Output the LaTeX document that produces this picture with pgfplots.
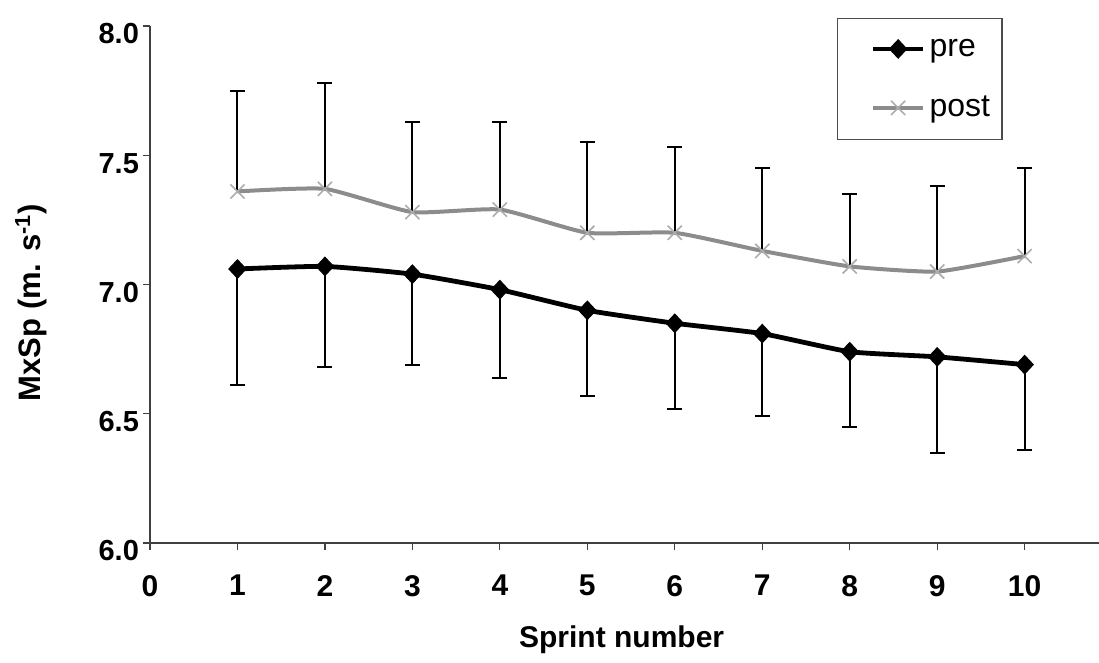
\documentclass[border=0pt]{standalone}
\usepackage{fontspec}
\setmainfont{Liberation Sans}
\usepackage{pgfplots}
\pgfplotsset{compat=1.18}

\definecolor{postgray}{gray}{0.55}
\definecolor{markgray}{gray}{0.68}

\pgfplotsset{
  mylegend/.style={
    legend image code/.code={
      \fill[white] (0pt,0pt) circle (0.05pt);
      \draw[mark repeat=2, mark phase=2, ##1] plot coordinates {(12.5pt,0pt) (25pt,0pt) (37.5pt,0pt)};
    },
  },
}

\begin{document}
\begin{tikzpicture}
\useasboundingbox (-75pt,-60pt) rectangle (474.5pt,271.5pt);
\begin{axis}[
  at={(0,0)}, anchor=south west,
  scale only axis, width=474.5pt, height=258.5pt,
  xmin=0, xmax=10.85, ymin=6, ymax=8,
  clip=false,
  axis lines*=left,
  axis line style={black!75, line width=0.6pt},
  xtick={0,...,10}, ytick={6,6.5,...,8},
  tick align=outside, major tick length=3.5pt,
  tick style={black!75, line width=0.6pt},
  /pgf/number format/assume math mode=true,
  xticklabel style={font=\bfseries\fontsize{15}{16}\selectfont, yshift=-9pt},
  yticklabel style={font=\bfseries\fontsize{14.5}{16}\selectfont, yshift=-4pt, xshift=1.5pt,
    /pgf/number format/.cd, fixed, fixed zerofill, precision=1},
  xlabel={Sprint number},
  ylabel={MxSp (m. s\textsuperscript{-1})},
  xlabel style={font=\bfseries\fontsize{15}{16}\selectfont,
    at={(axis description cs:0.497,-0.1876)}, anchor=center},
  ylabel style={font=\bfseries\fontsize{15.5}{16}\selectfont,
    at={(axis description cs:-0.1254,0.465)}, anchor=center},
  legend style={at={(0.724,1.015)}, anchor=north west,
    draw=black!70, line width=0.6pt,
    font=\fontsize{16}{18}\selectfont,
    inner xsep=4pt, inner ysep=8pt, row sep=14.5pt},
  legend cell align=left,
]

% pre: mean with SD below
\addplot[mylegend, black, line width=2.4pt, smooth, tension=0.3,
  mark=diamond*, mark size=4.6pt, mark options={solid, xscale=1.25, line width=0.5pt},
  error bars/.cd, y dir=minus, y explicit,
  error bar style={black, line width=1pt},
  error mark options={rotate=90, mark size=3.75pt, black, line width=1pt}]
  coordinates {
  (1,7.06) +- (0,0.45)
  (2,7.07) +- (0,0.39)
  (3,7.04) +- (0,0.35)
  (4,6.98) +- (0,0.34)
  (5,6.90) +- (0,0.33)
  (6,6.85) +- (0,0.33)
  (7,6.81) +- (0,0.32)
  (8,6.74) +- (0,0.29)
  (9,6.72) +- (0,0.37)
  (10,6.69) +- (0,0.33)
};
\addlegendentry{pre}

% post: mean with SD above
\addplot[mylegend, postgray, line width=2pt, smooth, tension=0.3,
  mark=x, mark size=5pt, mark options={markgray, line width=0.8pt},
  error bars/.cd, y dir=plus, y explicit,
  error bar style={black, line width=1pt},
  error mark options={rotate=90, mark size=3.75pt, black, line width=1pt}]
  coordinates {
  (1,7.36) +- (0,0.39)
  (2,7.37) +- (0,0.41)
  (3,7.28) +- (0,0.35)
  (4,7.29) +- (0,0.34)
  (5,7.20) +- (0,0.35)
  (6,7.20) +- (0,0.33)
  (7,7.13) +- (0,0.32)
  (8,7.07) +- (0,0.28)
  (9,7.05) +- (0,0.33)
  (10,7.11) +- (0,0.34)
};
\addlegendentry{post}

\end{axis}
\end{tikzpicture}
\end{document}
